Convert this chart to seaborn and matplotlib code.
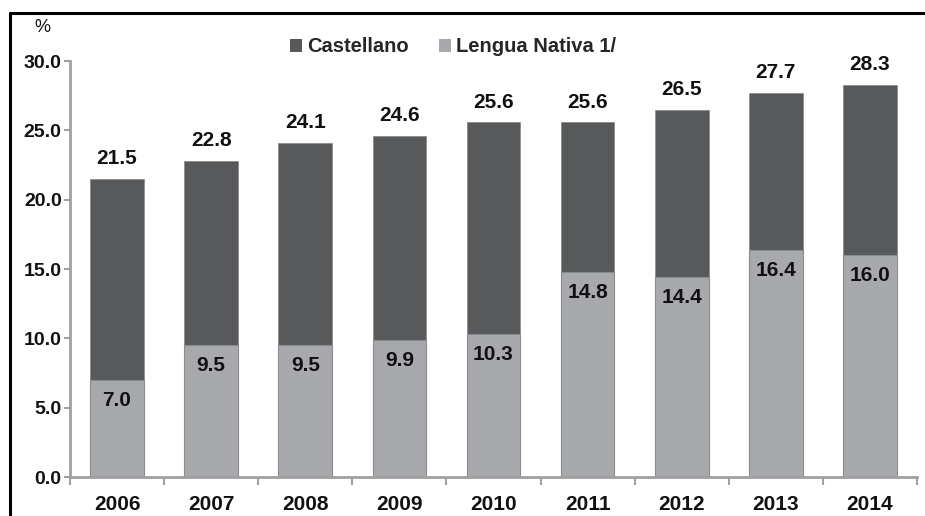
import matplotlib
matplotlib.use("Agg")
import matplotlib.pyplot as plt
from matplotlib.lines import Line2D
from matplotlib.ticker import FixedLocator
import seaborn as sns
import pandas as pd

years = ["2006", "2007", "2008", "2009", "2010", "2011", "2012", "2013", "2014"]
castellano = [21.5, 22.8, 24.1, 24.6, 25.6, 25.6, 26.5, 27.7, 28.3]
lengua_nativa = [7.0, 9.5, 9.5, 9.9, 10.3, 14.8, 14.4, 16.4, 16.0]
y_ticks = [0, 5, 10, 15, 20, 25, 30]

DARK = "#58595b"
LIGHT = "#a7a9ac"
AXIS = "#a0a0a0"
INK = "#111111"

sns.set_theme(style="white")
plt.rcParams["font.family"] = ["Liberation Sans Narrow", "Liberation Sans", "DejaVu Sans"]
plt.rcParams["font.weight"] = "bold"

df = pd.DataFrame({"year": years, "castellano": castellano, "nativa": lengua_nativa})

fig = plt.figure(figsize=(9.25, 5.16), dpi=100)
ax = fig.add_axes([70 / 925, 1 - 477 / 516, (917 - 70) / 925, (477 - 61) / 516])

sns.barplot(data=df, x="year", y="castellano", color=DARK, saturation=1,
            width=0.57, edgecolor="#8a8b8d", linewidth=0.6, label="Castellano", ax=ax)
sns.barplot(data=df, x="year", y="nativa", color=LIGHT, saturation=1,
            width=0.57, edgecolor="#8a8b8d", linewidth=0.8, label="Lengua Nativa 1/", ax=ax)

for i, (c, n) in enumerate(zip(castellano, lengua_nativa)):
    ax.annotate(f"{c:.1f}", (i, c), xytext=(0, 7.5), textcoords="offset points",
                ha="center", va="bottom", fontsize=15, fontweight="bold", color=INK)
    ax.annotate(f"{n:.1f}", (i, n), xytext=(0, -8), textcoords="offset points",
                ha="center", va="top", fontsize=15, fontweight="bold", color=INK)

ax.set_ylim(0, 30)
ax.set_xlim(-0.5, len(years) - 0.5)
ax.set_yticks(y_ticks)
ax.set_yticklabels([f"{v:.1f}" for v in y_ticks])
ax.set_xlabel("")
ax.set_ylabel("")

for side in ("top", "right"):
    ax.spines[side].set_visible(False)
for side in ("left", "bottom"):
    ax.spines[side].set_color(AXIS)
    ax.spines[side].set_linewidth(2)

ax.tick_params(axis="y", which="major", left=True, length=4, width=1.5, color=AXIS,
               labelsize=14, pad=2, labelcolor=INK)
ax.tick_params(axis="x", which="major", bottom=False, labelsize=15, pad=7,
               labelcolor=INK)
ax.xaxis.set_minor_locator(FixedLocator([i - 0.5 for i in range(len(years) + 1)]))
ax.tick_params(axis="x", which="minor", bottom=True, length=6, width=1.5, color=AXIS)
for lab in ax.get_xticklabels() + ax.get_yticklabels():
    lab.set_fontweight("bold")

ax.text(-0.033, 1.08, "%", transform=ax.transAxes, ha="center", va="center",
        fontsize=13, fontweight="normal", color=INK)

leg = ax.legend(loc="center", bbox_to_anchor=(0.452, 1.034), ncol=2, frameon=False,
                handlelength=0.6, handleheight=0.6, handletextpad=0.25,
                columnspacing=1.5, prop={"size": 14.5, "weight": "bold"})
for h in leg.legend_handles:
    h.set_edgecolor("none")

# outer frame (top and left edges)
fig.add_artist(Line2D([10 / 925, 1.0], [1 - 13 / 516, 1 - 13 / 516],
                      transform=fig.transFigure, color="black", linewidth=2.2))
fig.add_artist(Line2D([10 / 925, 10 / 925], [0, 1 - 13 / 516],
                      transform=fig.transFigure, color="black", linewidth=2.2))

fig.savefig("out.png", dpi=100)
